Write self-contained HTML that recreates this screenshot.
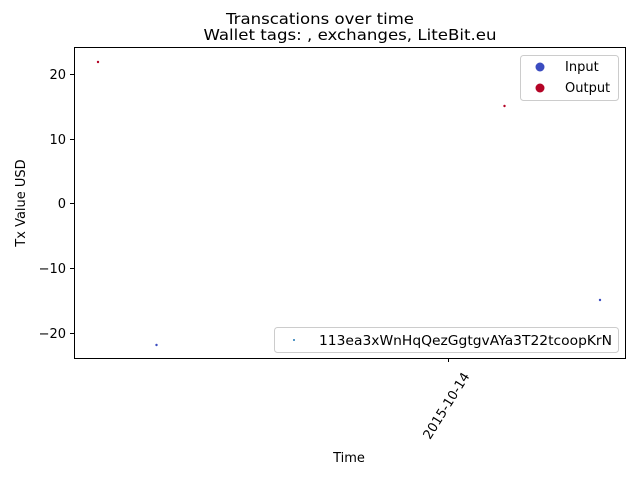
<!DOCTYPE html>
<html><head><style>
html,body{margin:0;padding:0;background:#fff;}
svg{display:block;font-family:"DejaVu Sans","Liberation Sans",sans-serif;}
</style></head><body>
<svg width="640" height="480" viewBox="0 0 640 480" xmlns="http://www.w3.org/2000/svg">
<rect width="640" height="480" fill="#fff"/>
<text x="320" y="24" font-size="15" text-anchor="middle" textLength="188" lengthAdjust="spacingAndGlyphs">Transcations over time</text>
<text x="350" y="40" font-size="15" text-anchor="middle" textLength="293" lengthAdjust="spacingAndGlyphs">Wallet tags: , exchanges, LiteBit.eu</text>
<rect x="74.5" y="47.5" width="551" height="311" fill="none" stroke="#000" stroke-width="1"/>
<g stroke="#000" stroke-width="1">
<line x1="70" y1="74.5" x2="74" y2="74.5"/>
<line x1="70" y1="139.5" x2="74" y2="139.5"/>
<line x1="70" y1="203.5" x2="74" y2="203.5"/>
<line x1="70" y1="268.5" x2="74" y2="268.5"/>
<line x1="70" y1="333.5" x2="74" y2="333.5"/>
<line x1="448.5" y1="358" x2="448.5" y2="362"/>
</g>
<g font-size="13" text-anchor="end">
<text x="66" y="79">20</text>
<text x="66" y="144">10</text>
<text x="66" y="208">0</text>
<text x="66" y="273">−10</text>
<text x="66" y="338">−20</text>
</g>
<text font-size="13" text-anchor="end" transform="translate(470,376) rotate(-58)">2015-10-14</text>
<text x="349" y="462" font-size="13" text-anchor="middle">Time</text>
<text font-size="13" text-anchor="middle" transform="translate(25,203) rotate(-90)">Tx Value USD</text>
<circle cx="98" cy="62" r="1.2" fill="#b40426"/>
<circle cx="504.5" cy="106" r="1.2" fill="#b40426"/>
<circle cx="156.5" cy="345" r="1.2" fill="#3b4cc0"/>
<circle cx="600" cy="300" r="1.2" fill="#3b4cc0"/>
<rect x="520.5" y="55.5" width="98" height="45" rx="3" fill="#fff" fill-opacity="0.8" stroke="#ccc"/>
<circle cx="540" cy="67" r="4.5" fill="#3b4cc0"/>
<circle cx="540" cy="88" r="4.5" fill="#b40426"/>
<text x="565" y="71" font-size="13">Input</text>
<text x="565" y="92" font-size="13">Output</text>
<rect x="274.5" y="327.5" width="344" height="25" rx="3" fill="#fff" fill-opacity="0.8" stroke="#ccc"/>
<circle cx="294" cy="340" r="1" fill="#1f77b4"/>
<text x="319" y="345" font-size="13" textLength="293" lengthAdjust="spacingAndGlyphs">113ea3xWnHqQezGgtgvAYa3T22tcoopKrN</text>
</svg>
</body></html>
